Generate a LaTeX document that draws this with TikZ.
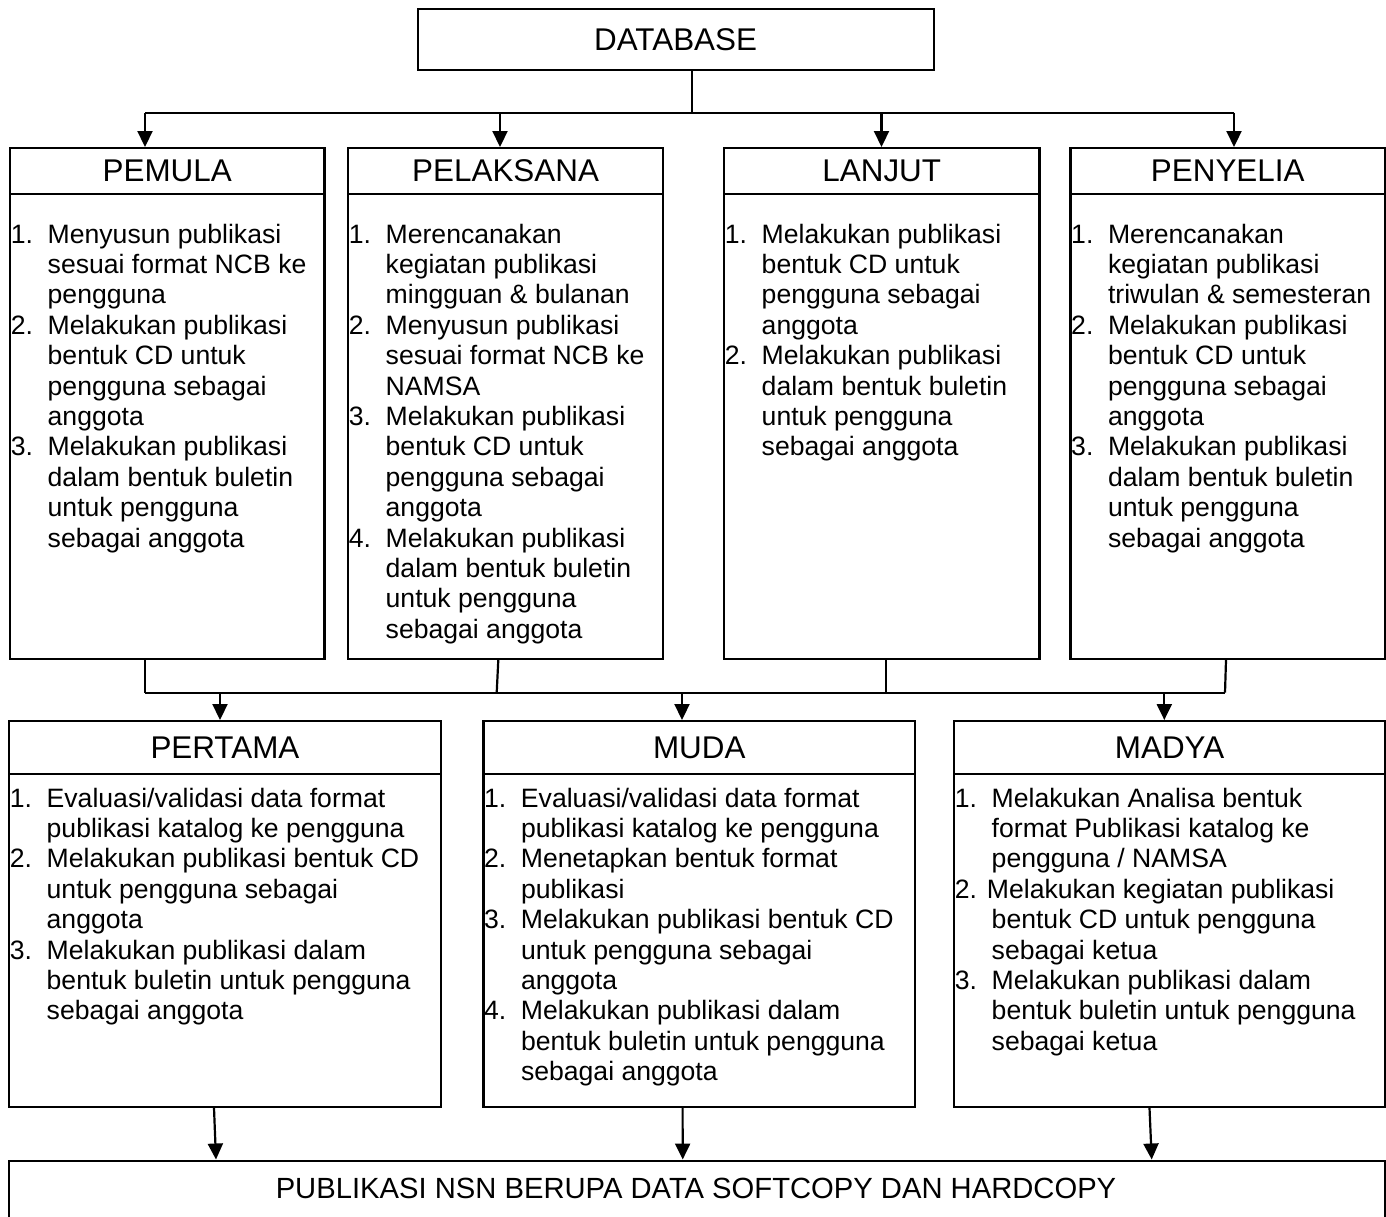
\documentclass[tikz,border=0pt]{standalone}
\usepackage{fontspec}
\setmainfont{Liberation Sans}
\usetikzlibrary{arrows.meta}
\newcommand\lst[1]{\begin{tabular}[t]{@{}l@{}}#1\end{tabular}}
\newcommand\nm[1]{\makebox[18.4pt][l]{#1}}
\begin{document}
\begin{tikzpicture}[x=0.5pt,y=-0.5pt,
  box/.style={draw, line width=1.1pt, inner sep=0pt, anchor=north west},
  ttl/.style={font=\fontsize{15.7}{18}\selectfont},
  body/.style={anchor=base west, inner sep=0pt, font=\fontsize{13.3}{15.2}\selectfont},
  con/.style={line width=1.1pt},
  arr/.style={con, -{Triangle[width=7.5pt,length=8pt]}}]
\useasboundingbox (0,0) rectangle (1386,1216);

% DATABASE
\node[box, ttl, minimum width=258pt, minimum height=30.75pt] (db) at (416.5,7.5) {DATABASE};

% top row
\node[box, ttl, minimum width=157.15pt, minimum height=23pt] (pemulaT) at (9,147) {PEMULA};
\node[box, minimum width=157.15pt, minimum height=232.35pt] (pemulaB) at (9,193) {};
\node[box, ttl, minimum width=157.5pt, minimum height=23pt] (pelaksanaT) at (347,147) {PELAKSANA};
\node[box, minimum width=157.5pt, minimum height=232.35pt] (pelaksanaB) at (347,193) {};
\node[box, ttl, minimum width=157.65pt, minimum height=23pt] (lanjutT) at (723,147) {LANJUT};
\node[box, minimum width=157.65pt, minimum height=232.35pt] (lanjutB) at (723,193) {};
\node[box, ttl, minimum width=157.35pt, minimum height=23pt] (penyeliaT) at (1069.3,147) {PENYELIA};
\node[box, minimum width=157.35pt, minimum height=232.35pt] (penyeliaB) at (1069.3,193) {};

\node[body] (pemulaL) at (10.5,243) {\lst{%
\nm{1.}Menyusun publikasi\\
\nm{}sesuai format NCB ke\\
\nm{}pengguna\\
\nm{2.}Melakukan publikasi\\
\nm{}bentuk CD untuk\\
\nm{}pengguna sebagai\\
\nm{}anggota\\
\nm{3.}Melakukan publikasi\\
\nm{}dalam bentuk buletin\\
\nm{}untuk pengguna\\
\nm{}sebagai anggota}};

\node[body] (pelaksanaL) at (348.5,243) {\lst{%
\nm{1.}Merencanakan\\
\nm{}kegiatan publikasi\\
\nm{}mingguan \& bulanan\\
\nm{2.}Menyusun publikasi\\
\nm{}sesuai format NCB ke\\
\nm{}NAMSA\\
\nm{3.}Melakukan publikasi\\
\nm{}bentuk CD untuk\\
\nm{}pengguna sebagai\\
\nm{}anggota\\
\nm{4.}Melakukan publikasi\\
\nm{}dalam bentuk buletin\\
\nm{}untuk pengguna\\
\nm{}sebagai anggota}};

\node[body] (lanjutL) at (724.5,243) {\lst{%
\nm{1.}Melakukan publikasi\\
\nm{}bentuk CD untuk\\
\nm{}pengguna sebagai\\
\nm{}anggota\\
\nm{2.}Melakukan publikasi\\
\nm{}dalam bentuk buletin\\
\nm{}untuk pengguna\\
\nm{}sebagai anggota}};

\node[body] (penyeliaL) at (1070.8,243) {\lst{%
\nm{1.}Merencanakan\\
\nm{}kegiatan publikasi\\
\nm{}triwulan \& semesteran\\
\nm{2.}Melakukan publikasi\\
\nm{}bentuk CD untuk\\
\nm{}pengguna sebagai\\
\nm{}anggota\\
\nm{3.}Melakukan publikasi\\
\nm{}dalam bentuk buletin\\
\nm{}untuk pengguna\\
\nm{}sebagai anggota}};

% bottom row
\node[box, ttl, minimum width=215.85pt, minimum height=26.25pt] (pertamaT) at (8,720) {PERTAMA};
\node[box, minimum width=215.85pt, minimum height=166.6pt] (pertamaB) at (8,772.5) {};
\node[box, ttl, minimum width=215.85pt, minimum height=26.25pt] (mudaT) at (482.3,720) {MUDA};
\node[box, minimum width=215.85pt, minimum height=166.6pt] (mudaB) at (482.3,772.5) {};
\node[box, ttl, minimum width=215.5pt, minimum height=26.25pt] (madyaT) at (953,720) {MADYA};
\node[box, minimum width=215.5pt, minimum height=166.6pt] (madyaB) at (953,772.5) {};

\node[body] (pertamaL) at (9.5,807) {\lst{%
\nm{1.}Evaluasi/validasi data format\\
\nm{}publikasi katalog ke pengguna\\
\nm{2.}Melakukan publikasi bentuk CD\\
\nm{}untuk pengguna sebagai\\
\nm{}anggota\\
\nm{3.}Melakukan publikasi dalam\\
\nm{}bentuk buletin untuk pengguna\\
\nm{}sebagai anggota}};

\node[body] (mudaL) at (483.8,807) {\lst{%
\nm{1.}Evaluasi/validasi data format\\
\nm{}publikasi katalog ke pengguna\\
\nm{2.}Menetapkan bentuk format\\
\nm{}publikasi\\
\nm{3.}Melakukan publikasi bentuk CD\\
\nm{}untuk pengguna sebagai\\
\nm{}anggota\\
\nm{4.}Melakukan publikasi dalam\\
\nm{}bentuk buletin untuk pengguna\\
\nm{}sebagai anggota}};

\node[body] (madyaL) at (954.5,807) {\lst{%
\nm{1.}Melakukan Analisa bentuk\\
\nm{}format Publikasi katalog ke\\
\nm{}pengguna / NAMSA\\
2. Melakukan kegiatan publikasi\\
\nm{}bentuk CD untuk pengguna\\
\nm{}sebagai ketua\\
\nm{3.}Melakukan publikasi dalam\\
\nm{}bentuk buletin untuk pengguna\\
\nm{}sebagai ketua}};

% final box
\node[box, minimum width=688pt, minimum height=45pt] (finalB) at (8,1159.5) {};
\node[anchor=base, inner sep=0pt, font=\fontsize{14.6}{17}\selectfont] (finalL) at (696,1198) {PUBLIKASI NSN BERUPA DATA SOFTCOPY DAN HARDCOPY};

% top connectors
\coordinate (hubT) at (692,112.7);
\coordinate (t1) at (145,112.7);
\coordinate (t2) at (500,112.7);
\coordinate (t3) at (881.5,112.7);
\coordinate (t4) at (1234,112.7);
\draw[con] (db.south -| hubT) -- (hubT);
\draw[con] (t1) -- (t4);
\draw[arr] (t1) -- (t1 |- pemulaT.north);
\draw[arr] (t2) -- (t2 |- pelaksanaT.north);
\draw[arr] (t3) -- (t3 |- lanjutT.north);
\draw[arr] (t4) -- (t4 |- penyeliaT.north);

% middle connectors
\coordinate (m1) at (145,692.7);
\coordinate (m2s) at (498.3,660);
\coordinate (m2) at (496.7,692.7);
\coordinate (m3) at (886,692.7);
\coordinate (m4s) at (1226,660);
\coordinate (m4) at (1225,692.7);
\coordinate (a1) at (220,692.7);
\coordinate (a2) at (682,692.7);
\coordinate (a3) at (1164.3,692.7);
\draw[con] (pemulaB.south -| m1) -- (m1);
\draw[con] (pelaksanaB.south -| m2s) -- (m2);
\draw[con] (lanjutB.south -| m3) -- (m3);
\draw[con] (penyeliaB.south -| m4s) -- (m4);
\draw[con] (m1) -- (m4);
\draw[arr] (a1) -- (a1 |- pertamaT.north);
\draw[arr] (a2) -- (a2 |- mudaT.north);
\draw[arr] (a3) -- (a3 |- madyaT.north);

% bottom connectors
\coordinate (b1s) at (214,1106);
\coordinate (b1e) at (216,1159.5);
\coordinate (b2s) at (682.6,1106);
\coordinate (b2e) at (682.7,1159.5);
\coordinate (b3s) at (1149.5,1106);
\coordinate (b3e) at (1151.7,1159.5);
\draw[arr] (pertamaB.south -| b1s) -- (b1e |- finalB.north);
\draw[arr] (mudaB.south -| b2s) -- (b2e |- finalB.north);
\draw[arr] (madyaB.south -| b3s) -- (b3e |- finalB.north);
\end{tikzpicture}
\end{document}
